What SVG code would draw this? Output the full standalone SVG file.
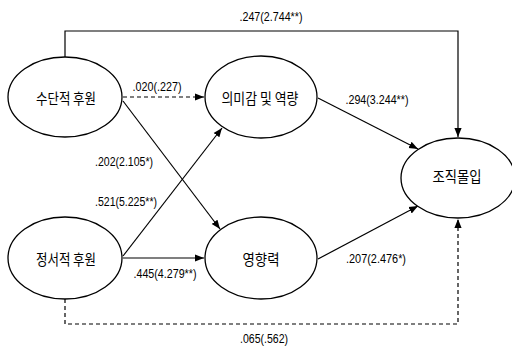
<svg xmlns="http://www.w3.org/2000/svg" width="512" height="348" viewBox="0 0 512 348">
<style>
.node ellipse{fill:#fff;stroke:#000;stroke-width:1.3}
.node text{font-family:"Noto Sans CJK KR","Noto Sans",sans-serif;font-size:14.5px;text-anchor:middle;fill:#000}
.lbl{font-family:"Liberation Sans",Arial,sans-serif;font-size:12px;fill:#000;text-anchor:middle}
.c{fill:none;stroke:#000;stroke-width:1.2}
.d{stroke-dasharray:4 3}
</style>
<defs>
<marker id="ah" viewBox="0 0 10 10" refX="10" refY="5" markerWidth="9" markerHeight="9" markerUnits="userSpaceOnUse" orient="auto">
<path d="M0,1 L10,5 L0,9 Z" fill="#000"/>
</marker>
</defs>
<rect width="512" height="348" fill="#fff"/>
<g id="connectors">
<polyline class="c" points="65,57 65,31 458,31 458,137" marker-end="url(#ah)"/>
<line class="c d" x1="123" y1="97" x2="204" y2="97" marker-end="url(#ah)"/>
<line class="c" x1="123" y1="101" x2="220" y2="229" marker-end="url(#ah)"/>
<line class="c" x1="123" y1="256" x2="222" y2="128" marker-end="url(#ah)"/>
<line class="c" x1="123" y1="258" x2="204" y2="258" marker-end="url(#ah)"/>
<line class="c" x1="318" y1="98" x2="418" y2="149" marker-end="url(#ah)"/>
<line class="c" x1="318" y1="259" x2="418" y2="206" marker-end="url(#ah)"/>
<polyline class="c d" points="65,299 65,324 458,324 458,219" marker-end="url(#ah)"/>
<text class="lbl" x="271" y="21" textLength="63" lengthAdjust="spacingAndGlyphs">.247(2.744**)</text>
<text class="lbl" x="157" y="91" textLength="49" lengthAdjust="spacingAndGlyphs">.020(.227)</text>
<text class="lbl" x="124" y="166" textLength="58" lengthAdjust="spacingAndGlyphs">.202(2.105*)</text>
<text class="lbl" x="126" y="206" textLength="62" lengthAdjust="spacingAndGlyphs">.521(5.225**)</text>
<text class="lbl" x="165" y="278" textLength="63" lengthAdjust="spacingAndGlyphs">.445(4.279**)</text>
<text class="lbl" x="377" y="104" textLength="63" lengthAdjust="spacingAndGlyphs">.294(3.244**)</text>
<text class="lbl" x="376" y="263" textLength="60" lengthAdjust="spacingAndGlyphs">.207(2.476*)</text>
<text class="lbl" x="264" y="343" textLength="48" lengthAdjust="spacingAndGlyphs">.065(.562)</text>
</g>
<g id="n1" class="node"><ellipse cx="65" cy="97" rx="57" ry="40"/><text x="66" y="104" textLength="60" lengthAdjust="spacingAndGlyphs">수단적 후원</text></g>
<g id="n2" class="node"><ellipse cx="261" cy="97" rx="56" ry="41"/><text x="260" y="104" textLength="77" lengthAdjust="spacingAndGlyphs">의미감 및 역량</text></g>
<g id="n3" class="node"><ellipse cx="458" cy="178" rx="57" ry="40"/><text x="457" y="182" textLength="49" lengthAdjust="spacingAndGlyphs">조직몰입</text></g>
<g id="n4" class="node"><ellipse cx="65" cy="258" rx="57" ry="41"/><text x="66" y="265" textLength="60" lengthAdjust="spacingAndGlyphs">정서적 후원</text></g>
<g id="n5" class="node"><ellipse cx="261" cy="258" rx="56" ry="41"/><text x="261" y="265" textLength="37" lengthAdjust="spacingAndGlyphs">영향력</text></g>
</svg>
